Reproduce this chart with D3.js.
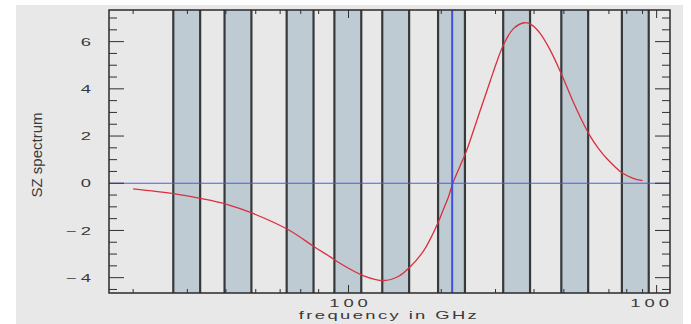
<!DOCTYPE html>
<html>
<head>
<meta charset="utf-8">
<script src="https://cdn.jsdelivr.net/npm/d3@7"></script>
<style>
  html, body { margin: 0; padding: 0; background: #ffffff; }
  svg { display: block; }
  text { font-family: "Liberation Sans", Arial, sans-serif; fill: #3a3a3a; }
</style>
</head>
<body>
<script>
// Thermal SZ spectral distortion vs. observing frequency
const freqGHz  = [20, 27, 33, 40, 49, 64, 78, 87, 93, 112, 130, 145, 158, 175, 184, 196,
                  203, 211, 218, 230, 241, 254, 267, 288, 303, 318, 343, 373, 393, 418,
                  451, 492, 536, 571, 605, 647, 690, 776, 839, 900];
const szSignal = [-0.24, -0.44, -0.64, -0.88, -1.28, -1.98, -2.72, -3.11, -3.36, -3.92, -4.12,
                  -3.95, -3.56, -2.88, -2.38, -1.62, -1.12, -0.58, 0, 0.72, 1.34, 2.2, 3.05,
                  4.31, 5.15, 5.85, 6.55, 6.8, 6.71, 6.36, 5.65, 4.6, 3.45, 2.68, 2.05, 1.48,
                  1.04, 0.42, 0.21, 0.11];

// Detector band centres (GHz) and fractional half-width
const bandCentres = [30, 44, 70, 100, 143, 217, 353, 545, 857];
const bandHalfWidth = 0.1;
const nullFreq = 217;

// Axis ticks
const xMajorTicks = [100, 1000];
const xMinorTicks = [20, 30, 40, 50, 60, 70, 80, 90, 200, 300, 400, 500, 600, 700, 800, 900];
const yMajorTicks = [-4, -2, 0, 2, 4, 6];
const yMinorTicks = d3.range(-4.5, 7.01, 0.5);

const W = 691, H = 324;
const pL = 109, pR = 670, pT = 10, pB = 293;

const svg = d3.select("body").append("svg").attr("width", W).attr("height", H);

const x = d3.scaleLog().domain([16.7, 1105]).range([pL, pR]);
const y = d3.scaleLinear().domain([-4.65, 7.34]).range([pB, pT]);

// page background
svg.append("rect").attr("x", 16).attr("y", 5).attr("width", 667).attr("height", H - 5)
  .attr("fill", "#e8e8e8");

const defs = svg.append("defs");
defs.append("clipPath").attr("id", "plotclip")
  .append("rect").attr("x", pL).attr("y", pT).attr("width", pR - pL).attr("height", pB - pT);
defs.append("clipPath").attr("id", "labelclip")
  .append("rect").attr("x", 0).attr("y", 0).attr("width", pR + 1).attr("height", H);

// frequency bands
const bands = svg.append("g");
bands.selectAll("rect").data(bandCentres).join("rect")
  .attr("x", d => x(d * (1 - bandHalfWidth)))
  .attr("y", pT)
  .attr("width", d => x(d * (1 + bandHalfWidth)) - x(d * (1 - bandHalfWidth)))
  .attr("height", pB - pT)
  .attr("fill", "#bfcbd2");
const edges = bandCentres.flatMap(d => [d * (1 - bandHalfWidth), d * (1 + bandHalfWidth)]);
bands.selectAll("line").data(edges).join("line")
  .attr("x1", d => x(d)).attr("x2", d => x(d))
  .attr("y1", pT).attr("y2", pB)
  .attr("stroke", "#36393c").attr("stroke-width", 2.2);

// zero line
svg.append("line")
  .attr("x1", pL).attr("x2", pR).attr("y1", y(0)).attr("y2", y(0))
  .attr("stroke", "#4d5ee0").attr("stroke-width", 1);

// SZ curve
const line = d3.line().x((d, i) => x(freqGHz[i])).y(d => y(d)).curve(d3.curveCatmullRom.alpha(0.5));
svg.append("path")
  .attr("d", line(szSignal))
  .attr("fill", "none").attr("stroke", "#d8303e").attr("stroke-width", 1.3)
  .attr("clip-path", "url(#plotclip)");

// null frequency marker
svg.append("line")
  .attr("x1", x(nullFreq)).attr("x2", x(nullFreq)).attr("y1", pT).attr("y2", pB)
  .attr("stroke", "#3d50e2").attr("stroke-width", 2);

// frame
svg.append("rect").attr("x", pL).attr("y", pT)
  .attr("width", pR - pL).attr("height", pB - pT)
  .attr("fill", "none").attr("stroke", "#2a2a2a").attr("stroke-width", 1.5);

// inward ticks on all four sides
const ticks = svg.append("g").attr("stroke", "#2f2f2f").attr("stroke-width", 1);
function xTicks(vals, len) {
  vals.forEach(v => {
    ticks.append("line").attr("x1", x(v)).attr("x2", x(v)).attr("y1", pB).attr("y2", pB - len);
    ticks.append("line").attr("x1", x(v)).attr("x2", x(v)).attr("y1", pT).attr("y2", pT + len);
  });
}
function yTicks(vals, len) {
  vals.forEach(v => {
    ticks.append("line").attr("x1", pL).attr("x2", pL + len).attr("y1", y(v)).attr("y2", y(v));
    ticks.append("line").attr("x1", pR).attr("x2", pR - len).attr("y1", y(v)).attr("y2", y(v));
  });
}
xTicks(xMinorTicks, 4);
xTicks(xMajorTicks, 8);
yTicks(yMinorTicks.filter(v => !yMajorTicks.includes(v)), 8);
yTicks(yMajorTicks, 15);

// tick labels (wide lettering)
const fmt = v => (v < 0 ? "\u2212" : "") + Math.abs(v);
svg.append("g").selectAll("text").data(yMajorTicks).join("text")
  .attr("transform", d => `translate(95,${y(d) + 4.2}) scale(1.6,1)`)
  .attr("text-anchor", "end")
  .attr("font-size", 11.5)
  .attr("letter-spacing", 2.5)
  .text(fmt);

svg.append("g").attr("clip-path", "url(#labelclip)")
  .selectAll("text").data(xMajorTicks).join("text")
  .attr("transform", d => `translate(${x(d) + 2},307) scale(1.6,1)`)
  .attr("text-anchor", "middle")
  .attr("font-size", 11.5)
  .attr("letter-spacing", 2.5)
  .text(d => d);

// axis titles
svg.append("text")
  .attr("transform", "translate(389,319) scale(1.6,1)")
  .attr("text-anchor", "middle")
  .attr("font-size", 11.5)
  .attr("letter-spacing", 1.5)
  .text("frequency in GHz");

svg.append("text")
  .attr("transform", "translate(42,155) rotate(-90)")
  .attr("text-anchor", "middle")
  .attr("font-family", "'Liberation Sans Narrow', 'Liberation Sans', sans-serif")
  .attr("font-size", 15)
  .text("SZ spectrum");
</script>
</body>
</html>
